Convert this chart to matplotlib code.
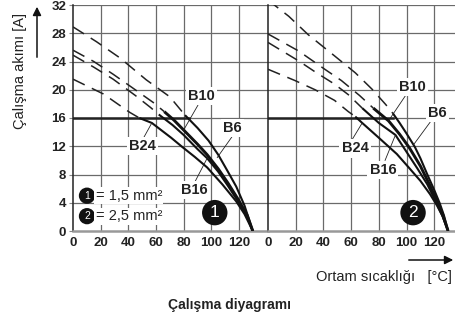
import matplotlib.pyplot as plt

plt.rcParams['font.family'] = ['Liberation Sans', 'DejaVu Sans']

x_ticks = [0, 20, 40, 60, 80, 100, 120]
y_ticks = [0, 4, 8, 12, 16, 20, 24, 28, 32]
rated_current = 16

# panel 1: 1,5 mm2   (temperature, current)
p1_b6 = [(0, 28.9), (17, 26.8), (34, 24.5), (53, 21.4), (70, 19.0), (81, 16.4), (90, 14.6),
         (98, 12.8), (105, 10.8), (112, 8.4), (118, 6.3), (124, 3.6), (130, 0)]
p1_b10 = [(0, 25.6), (15, 24.0), (29, 22.2), (45, 20.0), (58, 18.2), (66, 16.9), (73, 15.7),
          (80, 14.3), (90, 12.3), (97, 10.8), (105, 8.8), (112, 6.8), (120, 4.3), (126, 2.2), (130, 0)]
p1_b16 = [(0, 24.9), (15, 23.2), (29, 21.5), (45, 19.2), (56, 17.5), (62, 16.5), (72, 15.0),
          (80, 13.6), (90, 11.6), (97, 10.3), (105, 8.4), (112, 6.4), (120, 4.0), (126, 2.0), (130, 0)]
p1_b24 = [(0, 21.5), (22, 19.4), (41, 16.8), (48, 16.0), (57, 15.3), (63, 14.4), (71, 13.2),
          (79, 11.9), (88, 10.5), (97, 9.0), (108, 6.6), (118, 4.2), (124, 2.4), (130, 0)]
p1_split = [81, 66, 62, 48]       # dashed above, solid from here
p1_flat_end = 84

# panel 2: 2,5 mm2
p2_b6 = [(0, 32.7), (15, 30.4), (29, 27.8), (48, 24.8), (63, 22.4), (75, 20.1), (85, 17.9),
         (90, 16.7), (95, 15.3), (100, 13.8), (106, 11.9), (110, 10.3), (115, 8.0), (120, 5.8),
         (124, 3.9), (127, 2.2), (130, 0)]
p2_b10 = [(0, 27.9), (22, 25.5), (41, 22.9), (53, 21.3), (66, 19.2), (76, 17.4), (87, 15.6),
          (95, 13.7), (102, 11.8), (110, 9.2), (116, 6.8), (121, 4.7), (126, 2.4), (130, 0)]
p2_b16 = [(0, 26.7), (22, 24.1), (35, 22.4), (48, 20.8), (58, 19.3), (68, 17.4), (80, 15.3),
          (92, 13.6), (100, 11.2), (108, 8.8), (115, 6.6), (121, 4.2), (126, 2.1), (130, 0)]
p2_b24 = [(0, 22.9), (19.5, 21.3), (34, 20.0), (48, 18.5), (58, 16.9), (63, 16.2), (68, 15.3),
          (80, 13.2), (93, 10.9), (102, 8.9), (110, 7.1), (117, 5.2), (122, 3.6), (126, 2.1), (130, 0)]
p2_split = [90, 76, 68, 63]
p2_flat_end = 90

names = ['B6', 'B10', 'B16', 'B24']
widths = [1.5, 2.1, 1.5, 1.5]

# label position, leader start, leader end
p1_labels = [((115.5, 14.6), (114.8, 13.3), (104.3, 10.4)),
             ((93.1, 19.1), (90.3, 17.8), (80, 14.3)),
             ((88, 5.8), (88, 6.9), (97, 10.3)),
             ((50.5, 12.0), (50.5, 13.0), (57, 15.3))]
p2_labels = [((122, 16.7), (117, 15.4), (105, 12.2)),
             ((104, 20.4), (99, 19.1), (87, 15.6)),
             ((83, 8.6), (84.5, 10.0), (92, 13.6)),
             ((62.8, 11.7), (60.6, 12.9), (68, 15.3))]

fig = plt.figure(figsize=(4.56, 3.22), dpi=100)
ax1 = fig.add_axes([73 / 456, 91 / 322, 195 / 456, 226 / 322])
ax2 = fig.add_axes([268 / 456, 91 / 322, 188 / 456, 226 / 322])


def draw_panel(ax, curves, splits, flat_end, labels, xmax, badge, show_y):
    ax.set_xlim(0, xmax)
    ax.set_ylim(0, 32)
    for t in x_ticks[1:]:
        ax.axvline(t, color='#6a6a6a', lw=0.9, zorder=1)
    for v in y_ticks[1:]:
        ax.axhline(v, color='#6a6a6a', lw=0.9, zorder=1)
    ax.plot([0, flat_end], [rated_current, rated_current], color='#222222', lw=1.8, zorder=3)
    for pts, split, w in zip(curves, splits, widths):
        dash = [p for p in pts if p[0] <= split]
        solid = [p for p in pts if p[0] >= split]
        ax.plot([p[0] for p in dash], [p[1] for p in dash], color='#222222', lw=1.1,
                dashes=(8.5, 5.2), zorder=3)
        ax.plot([p[0] for p in solid], [p[1] for p in solid], color='#111111', lw=w,
                zorder=4, solid_capstyle='butt')
    for name, (pos, start, end) in zip(names, labels):
        ax.plot([start[0], end[0]], [start[1], end[1]], color='#222222', lw=0.6, zorder=5)
        ax.text(pos[0], pos[1], name, ha='center', va='center', fontsize=10.5,
                fontweight='bold', color='#222222', zorder=6,
                bbox=dict(boxstyle='square,pad=0.15', fc='white', ec='none'))
    ax.text(badge[0], 2.6, badge[1], ha='center', va='center', fontsize=12.5, color='white',
            zorder=6, bbox=dict(boxstyle='circle,pad=0.3', fc='#111111', ec='none'))
    ax.set_xticks(x_ticks)
    ax.set_xticklabels([str(t) for t in x_ticks], fontsize=9.5, fontweight='bold',
                       color='#222222')
    ax.tick_params(axis='x', length=0, pad=4)
    if show_y:
        ax.set_yticks(y_ticks)
        ax.set_yticklabels([str(v) for v in y_ticks], fontsize=9.5, fontweight='bold',
                           color='#222222')
        ax.tick_params(axis='y', length=3, color='#888888', pad=2)
    else:
        ax.set_yticks([])
    ax.spines['top'].set_visible(False)
    ax.spines['right'].set_visible(False)
    ax.spines['left'].set_color('#222222')
    ax.spines['left'].set_linewidth(1.1)
    ax.spines['bottom'].set_color('#999999')
    ax.spines['bottom'].set_linewidth(1.8)


draw_panel(ax1, [p1_b6, p1_b10, p1_b16, p1_b24], p1_split, p1_flat_end, p1_labels,
           141, (102.5, '1'), True)
draw_panel(ax2, [p2_b6, p2_b10, p2_b16, p2_b24], p2_split, p2_flat_end, p2_labels,
           135.7, (104.7, '2'), False)

# cross-section legend
for yv, num, txt in [(5.0, '1', '= 1,5 mm²'), (2.1, '2', '= 2,5 mm²')]:
    ax1.text(10.1, yv, num, ha='center', va='center', fontsize=7.5, color='white', zorder=6,
             bbox=dict(boxstyle='circle,pad=0.3', fc='#111111', ec='none'))
    ax1.text(16.3, yv, txt, ha='left', va='center', fontsize=10.5, color='#222222', zorder=6,
             bbox=dict(boxstyle='square,pad=0.1', fc='white', ec='none'))

# axis titles with arrows
fig.text(20 / 456, 1 - 13 / 322, 'Çalışma akımı [A]', rotation=90, ha='center', va='top',
         fontsize=10.5, color='#222222')
fig.add_artist(plt.matplotlib.patches.FancyArrowPatch(
    (37 / 456, 1 - 60 / 322), (37 / 456, 1 - 4 / 322), transform=fig.transFigure,
    arrowstyle='-|>,head_length=5,head_width=2.5', color='#111111', lw=1.1))
fig.text(384 / 456, 1 - 277 / 322, 'Ortam sıcaklığı   [°C]', ha='center', va='center',
         fontsize=10.5, color='#222222')
fig.add_artist(plt.matplotlib.patches.FancyArrowPatch(
    (406 / 456, 1 - 260 / 322), (456 / 456, 1 - 260 / 322), transform=fig.transFigure,
    arrowstyle='-|>,head_length=5,head_width=2.5', color='#111111', lw=1.1))
fig.text(230 / 456, 1 - 305 / 322, 'Çalışma diyagramı', ha='center', va='center',
         fontsize=10, fontweight='bold', color='#222222')

fig.savefig('out.png', dpi=100)
